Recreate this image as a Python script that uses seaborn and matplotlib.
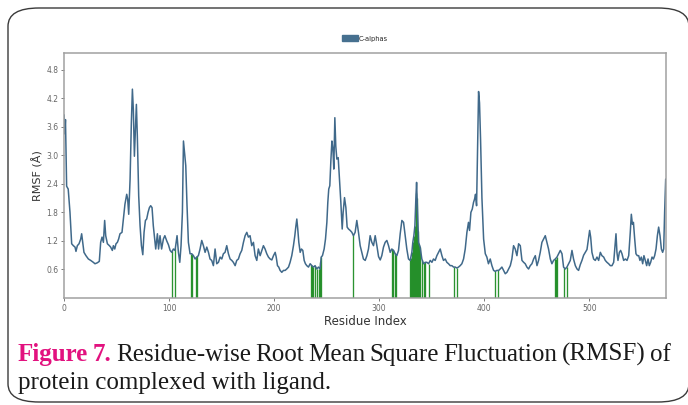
import numpy as np
import pandas as pd
import matplotlib
matplotlib.use("Agg")
import matplotlib.pyplot as plt
from matplotlib.patches import Patch, FancyBboxPatch
import seaborn as sns

# ---------------- data ----------------
residues = [0, 0.7, 1.4, 2.5, 4, 5.7, 7.3, 8.9, 10.5, 11.4, 12.7, 14.3, 15.9, 16.8, 17.8, 19, 20.9, 23.2,
            25.4, 27.9, 29.5, 31.7, 33.6, 34.9, 36.2, 37.5, 38.7, 39.7, 41.3, 43.2, 44.4, 46, 47, 48.3,
            49.5, 50.8, 52, 53.3, 55.2, 56.5, 58, 59.7, 60.6, 61.6, 62.9, 64.1, 65.1, 66, 67, 68, 68.9,
            69.8, 71.1, 72.4, 73.7, 75, 76.2, 77.5, 78.7, 80, 81.3, 82.5, 83.8, 85, 86.3, 87.3, 88.9, 90,
            91.4, 92.9, 94.6, 96, 97.8, 99.4, 101, 102.5, 104.1, 105.7, 106.7, 107.6, 108.9, 110.2, 111.4,
            112.7, 113.7, 114.6, 115.9, 117.1, 118.4, 120, 121.6, 123.2, 124.8, 126.3, 127.9, 129.5, 131.1,
            132.7, 134.3, 135.9, 137.5, 139, 140.6, 142.2, 143.8, 145.4, 147, 148.6, 150.2, 151.7, 153.3,
            154.9, 156.5, 158.1, 159.7, 161.2, 162.9, 164.4, 166, 167.6, 169.2, 170.8, 172.4, 174, 175.5,
            177.1, 178.7, 180.3, 181.9, 183.5, 185, 186.7, 188.3, 189.8, 191.4, 193, 194.6, 196.2, 197.8,
            199.4, 201, 202, 203.2, 204.4, 205.7, 207.3, 208.9, 210.5, 212, 213.7, 215.2, 216.8, 218.4,
            219.7, 220.6, 221.6, 222.5, 223.5, 224.8, 226, 227.3, 228.6, 229.8, 231.1, 232.7, 234.3, 235.9,
            237.5, 239, 240.6, 242.2, 243.8, 244.8, 246, 247.6, 248.9, 250.2, 251.1, 252, 253, 254, 255,
            256, 256.8, 257.8, 258.7, 259.7, 261, 262.2, 263.5, 264.8, 265.7, 267, 268.3, 269.5, 270.8,
            272.4, 274, 275.5, 277.1, 278.7, 280.3, 281.9, 283.5, 285, 286.7, 288.3, 289.8, 291.4, 293,
            294.6, 296.2, 297.8, 299.4, 301, 302.5, 304.1, 305.7, 307.3, 308.9, 310.5, 312, 313.7, 315.2,
            316.8, 318.4, 320, 321.6, 323.2, 324.8, 326.3, 327.9, 329.5, 331.1, 332, 333, 334, 334.9,
            335.6, 336.5, 337.5, 339, 340.6, 342.2, 343.8, 345.4, 347, 348.6, 350.2, 351.7, 353.3, 354.9,
            356.5, 358.1, 359.7, 361.2, 362.9, 364.4, 366, 367.6, 369.2, 370.8, 372.4, 374, 375.5, 377.1,
            378.7, 380.3, 381.9, 383.5, 385, 386, 387.3, 388.6, 389.8, 390.8, 391.7, 392.7, 393.7, 394.6,
            395.5, 396.5, 397.8, 399.4, 401, 402.5, 404, 405.7, 407.3, 408.9, 410.5, 412, 413.7, 415.2,
            416.8, 418.4, 420, 421.6, 423.2, 424.8, 426.3, 427.9, 429.5, 431.1, 432.7, 434.3, 435.9, 437.5,
            439, 440.6, 442.2, 443.8, 445.4, 447, 448.6, 450.2, 451.7, 453.3, 454.9, 456.5, 458.1, 459.7,
            461.2, 462.9, 464.4, 466, 467.6, 469.2, 470.8, 472.4, 474, 475.5, 477.1, 478.7, 480.3, 481.9,
            483.5, 485, 486.7, 488.3, 489.8, 491.4, 493, 494.6, 496.2, 497.8, 499.4, 500.3, 501.3, 502.5,
            504.1, 505.7, 507.3, 508.9, 510.5, 512, 513.7, 515.2, 516.8, 518.4, 520, 521.6, 523.2, 524.5,
            525.4, 526.3, 527.3, 528.6, 529.8, 531.1, 532.7, 534.3, 535.9, 537.5, 539, 540, 541, 542,
            543.2, 544.4, 545.7, 547, 548.2, 549.5, 550.8, 552, 553.3, 554.6, 555.9, 557.1, 558.4, 559.7,
            561, 562.2, 563.5, 564.8, 566, 567.3, 568.6, 569.8, 570.8, 571.7, 572.7]

rmsf = [3.85, 3.45, 3.75, 2.35, 2.29, 1.8, 1.14, 1.1, 1.07, 0.98, 1.1, 1.14, 1.24, 1.35, 1.17, 0.96, 0.89, 0.82,
        0.79, 0.75, 0.72, 0.74, 0.77, 1.17, 1.28, 1.17, 1.63, 1.31, 1.14, 1.1, 1.07, 1.0, 1.1, 1.03,
        1.14, 1.17, 1.24, 1.35, 1.38, 1.66, 1.97, 2.18, 2.08, 1.76, 2.5, 3.68, 4.39, 3.96, 2.98, 3.54, 4.07,
        3.4, 2.15, 1.52, 1.1, 0.91, 1.38, 1.63, 1.66, 1.8, 1.9, 1.94, 1.9, 1.52, 1.24, 1.03, 1.35, 1.03,
        1.31, 1.03, 1.24, 1.31, 1.2, 1.12, 1.0, 0.96, 1.03, 1.0, 1.17, 1.31, 0.96, 0.75, 1.1,
        1.8, 3.3, 3.09, 2.78, 1.94, 1.17, 0.93, 0.93, 0.89, 0.82, 0.86, 0.89, 1.03, 1.21,
        1.1, 0.96, 1.07, 0.96, 0.82, 0.79, 0.68, 1.03, 0.72, 0.75, 0.86, 0.82, 0.93, 0.96,
        1.1, 0.93, 0.82, 0.79, 0.75, 0.68, 0.79, 0.82, 0.93, 1.0, 1.17, 1.31, 1.38, 1.28,
        1.31, 1.1, 1.17, 0.89, 0.79, 1.03, 0.89, 1.0, 1.1, 1.03, 0.93, 0.86, 0.82, 0.8,
        0.89, 0.96, 0.86, 0.68, 0.65, 0.58, 0.54, 0.58, 0.58, 0.61, 0.65, 0.75, 0.89, 1.1,
        1.31, 1.49, 1.66, 1.45, 1.17, 0.96, 1.03, 1.0, 0.79, 0.72, 0.68, 0.65, 0.72, 0.68,
        0.65, 0.68, 0.61, 0.65, 0.61, 0.86, 0.89, 1.03, 1.24, 1.59, 2.01, 2.29, 2.36, 2.88, 3.3,
        3.12, 2.71, 3.79, 3.19, 2.92, 2.95, 2.5, 2.01, 1.45, 1.8, 2.11, 1.9, 1.49, 1.45,
        1.42, 1.38, 1.31, 1.38, 1.63, 1.38, 1.1, 0.96, 0.82, 0.79, 0.89, 1.03, 1.31, 1.17,
        1.1, 1.31, 1.1, 0.87, 0.8, 0.89, 1.07, 1.17, 1.21, 1.1, 0.96, 1.03, 1.0, 0.93,
        0.89, 1.0, 1.35, 1.63, 1.59, 1.31, 1.03, 0.82, 0.79, 0.96, 1.17, 1.31, 1.52, 2.08,
        2.43, 1.8, 1.17, 1.07, 0.82, 0.72, 0.75, 0.75, 0.72, 0.79, 0.75, 0.82, 0.79, 0.89,
        0.96, 1.03, 0.89, 0.79, 0.82, 0.75, 0.72, 0.68, 0.68, 0.65, 0.65, 0.63, 0.65, 0.68,
        0.72, 0.82, 1.03, 1.38, 1.59, 1.42, 1.8, 1.87, 2.01, 2.08, 2.18, 1.94, 3.19, 4.34,
        4.1, 3.33, 2.1, 1.24, 0.93, 0.86, 0.72, 0.82, 0.68, 0.58, 0.56, 0.58, 0.58, 0.61,
        0.65, 0.58, 0.51, 0.54, 0.61, 0.68, 0.82, 1.1, 1.03, 0.89, 1.14, 1.1, 0.79, 0.75,
        0.72, 0.65, 0.61, 0.68, 0.72, 0.82, 0.89, 0.68, 0.79, 0.96, 1.17, 1.24, 1.31, 1.17,
        1.03, 0.82, 0.72, 0.79, 0.82, 0.86, 0.93, 1.0, 0.93, 0.65, 0.61, 0.65, 0.72, 0.79,
        1.0, 0.82, 0.68, 0.61, 0.58, 0.7, 0.79, 0.9, 0.96, 1.02, 1.28, 1.42, 1.28, 0.96,
        0.82, 0.79, 0.86, 0.79, 0.96, 0.89, 0.86, 0.79, 0.75, 0.72, 0.68, 0.68, 0.75, 1.1,
        1.35, 0.96, 0.79, 0.96, 1.0, 0.93, 0.79, 0.82, 0.79, 0.89, 1.38, 1.76, 1.55, 1.59,
        1.24, 0.93, 0.89, 0.89, 0.79, 0.86, 0.72, 0.89, 0.79, 0.68, 0.82, 0.68, 0.75, 0.86,
        0.82, 0.89, 1.03, 1.31, 1.49, 1.31, 1.03, 0.96, 1.03, 1.8, 2.5]

# residues in contact with the ligand (green bars) and their bar heights
contact_res = [103, 106, 121, 122, 126, 127,
               235, 236, 237, 239, 241, 243, 244, 245,
               275,
               312, 313, 315, 316,
               329, 330, 331, 332, 333, 334, 335, 336, 337, 338, 339, 341, 343, 344, 347,
               371, 374, 410, 413, 467, 468, 469, 476, 479]
contact_h = [0.98, 1.05, 0.93, 0.93, 0.86, 0.88,
             0.70, 0.68, 0.66, 0.68, 0.62, 0.62, 0.75, 0.87,
             1.33,
             1.03, 1.01, 0.95, 0.90,
             0.79, 0.85, 0.96, 1.17, 1.31, 1.52, 2.2, 2.1, 1.4, 1.12, 1.07, 0.80, 0.74, 0.75, 0.72,
             0.65, 0.63, 0.56, 0.58, 0.81, 0.83, 0.86, 0.64, 0.66]

yticks = [0.6, 1.2, 1.8, 2.4, 3.0, 3.6, 4.2, 4.8]
xticks = [0, 100, 200, 300, 400, 500]
series_label = "C-alphas"
caption_head = "Figure 7."
caption_line1 = "Residue-wise Root Mean Square Fluctuation (RMSF) of"
caption_line2 = "protein complexed with ligand."

# ---------------- figure ----------------
sns.set_theme(style="white")
plt.rcParams["font.family"] = ["DejaVu Sans"]

W, H = 688, 405
fig = plt.figure(figsize=(W / 100, H / 100), dpi=100)
fig.patch.set_facecolor("white")

ax = fig.add_axes([64 / W, 1 - 298 / H, (666 - 64) / W, (298 - 53) / H])

line_color = "#40698a"
df = pd.DataFrame({"Residue Index": residues, "RMSF": rmsf})
ax.vlines(contact_res, 0, contact_h, color="#14871a", lw=0.95, alpha=0.9, zorder=1)
sns.lineplot(data=df, x="Residue Index", y="RMSF", color=line_color, lw=1.1,
             ax=ax, legend=False, zorder=2, sort=True)

ax.set_xlim(0, 573)
ax.set_ylim(0, 5.15)
ax.set_xticks(xticks)
ax.set_yticks(yticks)
ax.set_xticklabels([str(t) for t in xticks])
ax.set_yticklabels([f"{t:.1f}" for t in yticks])
ax.tick_params(axis="both", labelsize=5.5, colors="#666666", length=2, width=0.6,
               direction="out", pad=2, left=True, bottom=True)
for s in ax.spines.values():
    s.set_color("#a0a0a0")
    s.set_linewidth(1.1)

ax.set_xlabel("Residue Index", fontsize=8.5, color="#333333", labelpad=2)
ax.set_ylabel("RMSF (Å)", fontsize=8, color="#333333", labelpad=2)

ax.legend(handles=[Patch(facecolor="#46708f", edgecolor="#46708f", label=series_label)],
          loc="lower center", bbox_to_anchor=(0.5, 1.035), frameon=False, fontsize=4.8,
          handlelength=2.4, handleheight=1.0, handletextpad=0.2, borderaxespad=0)

# rounded frame around the whole figure
frame = FancyBboxPatch((8 / W, 3 / H), (W - 7) / W, (H - 11) / H,
                       boxstyle="round,pad=0,rounding_size=0.045",
                       transform=fig.transFigure, fill=False, edgecolor="#3a3a3a",
                       lw=1.0, clip_on=False)
fig.patches.append(frame)

# ---------------- caption (justified first line) ----------------
serif = ["Liberation Serif", "DejaVu Serif"]
fs = 18
x_left, x_right = 18, 671
y1, y2 = H - 361, H - 389

fig.canvas.draw()
renderer = fig.canvas.get_renderer()

words = [(w, True) for w in caption_head.split()] + [(w, False) for w in caption_line1.split()]
texts = []
for w, head in words:
    t = fig.text(0, y1 / H, w, fontsize=fs, family=serif,
                 fontweight="bold" if head else "normal",
                 color="#e2127f" if head else "#1a1a1a", va="baseline", ha="left")
    texts.append(t)
widths = [t.get_window_extent(renderer).width for t in texts]
gap = (x_right - x_left - sum(widths)) / (len(texts) - 1)
x = x_left
for t, w in zip(texts, widths):
    t.set_x(x / W)
    x += w + gap

fig.text(x_left / W, y2 / H, caption_line2, fontsize=fs, family=serif, color="#1a1a1a",
         va="baseline", ha="left")

fig.savefig("out.png", dpi=100, facecolor="white")
